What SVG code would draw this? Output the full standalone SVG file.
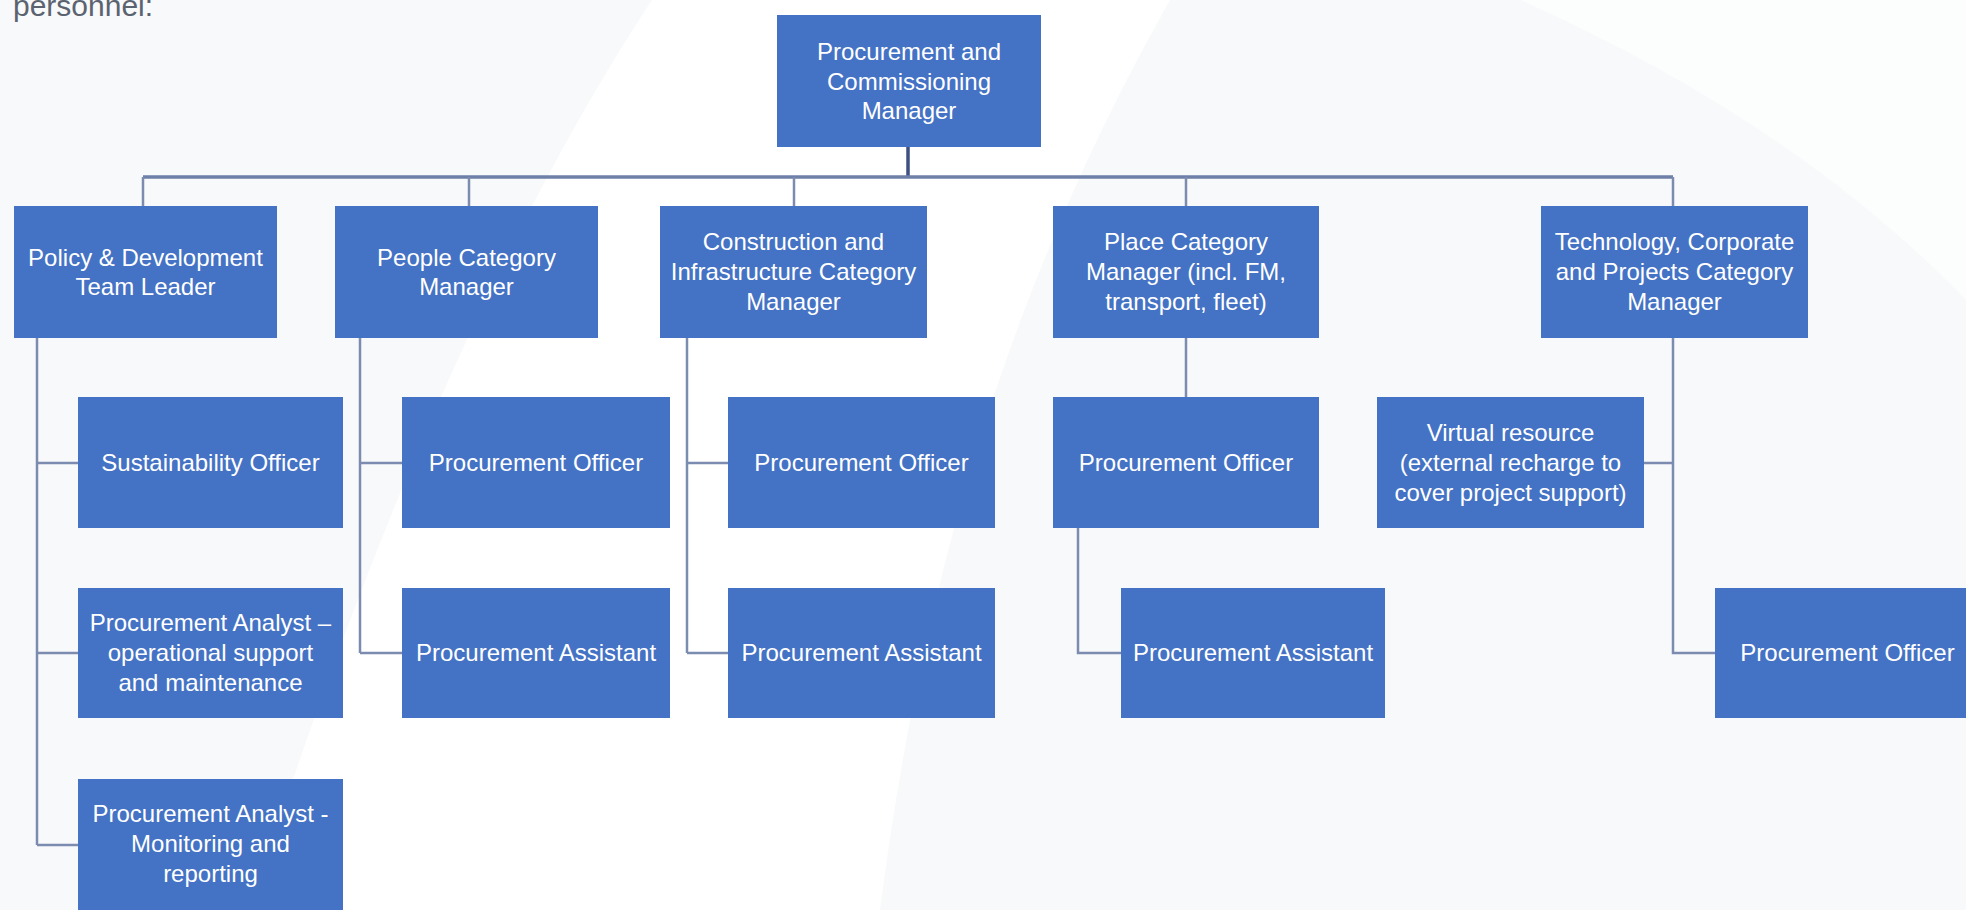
<svg xmlns="http://www.w3.org/2000/svg" width="1966" height="910" viewBox="0 0 1966 910">
<defs>
<style>
.bg{fill:#f8f9fa}
.wm{fill:#ffffff}
.box{fill:#4472c4}
.t{font-family:"Liberation Sans",Arial,sans-serif;font-size:24px;fill:#ffffff;text-anchor:middle}
.ln{fill:none;stroke:#7c8bb0;stroke-width:2.5}
.bus{fill:none;stroke:#6e7fa8;stroke-width:3.5}
.stem{fill:none;stroke:#3e4f82;stroke-width:3.5}
.cap{font-family:"Liberation Sans",Arial,sans-serif;font-size:30px;fill:#5b6370}
</style>
</defs>
<rect class="bg" x="0" y="0" width="1966" height="910"/>
<path class="wm" d="M652,0 C520,200 380,500 250,910 L880,910 C920,600 1000,300 1170,0 Z"/>
<path class="wm" d="M1200,0 L1966,0 L1966,300 C1850,180 1700,80 1520,0 Z" opacity="0.6"/>
<text class="cap" x="13" y="16">personnel:</text>

<g id="connectors">
<path class="stem" d="M908,147 V177"/>
<path class="bus" d="M143,177 H1673"/>
<path class="ln" d="M143,177 V206 M469,177 V206 M794,177 V206 M1186,177 V206 M1673,177 V206"/>
<path class="ln" d="M37,338 V845 M37,463 H78 M37,653 H78 M37,845 H78"/>
<path class="ln" d="M360,338 V653 M360,463 H402 M360,653 H402"/>
<path class="ln" d="M687,338 V653 M687,463 H728 M687,653 H728"/>
<path class="ln" d="M1186,338 V397 M1078,528 V653 H1121"/>
<path class="ln" d="M1673,338 V653 H1715 M1673,463 H1644"/>
</g>

<g id="n-top"><rect class="box" x="777" y="15" width="264" height="132"/>
<text class="t" x="909" y="60">Procurement and</text><text class="t" x="909" y="90">Commissioning</text><text class="t" x="909" y="119">Manager</text></g>

<g id="n-policy"><rect class="box" x="14" y="206" width="263" height="132"/>
<text class="t" x="145.5" y="266">Policy &amp; Development</text><text class="t" x="145.5" y="295">Team Leader</text></g>

<g id="n-people"><rect class="box" x="335" y="206" width="263" height="132"/>
<text class="t" x="466.5" y="266">People Category</text><text class="t" x="466.5" y="295">Manager</text></g>

<g id="n-construction"><rect class="box" x="660" y="206" width="267" height="132"/>
<text class="t" x="793.5" y="250">Construction and</text><text class="t" x="793.5" y="280">Infrastructure Category</text><text class="t" x="793.5" y="310">Manager</text></g>

<g id="n-place"><rect class="box" x="1053" y="206" width="266" height="132"/>
<text class="t" x="1186" y="250">Place Category</text><text class="t" x="1186" y="280">Manager (incl. FM,</text><text class="t" x="1186" y="310">transport, fleet)</text></g>

<g id="n-tech"><rect class="box" x="1541" y="206" width="267" height="132"/>
<text class="t" x="1674.5" y="250">Technology, Corporate</text><text class="t" x="1674.5" y="280">and Projects Category</text><text class="t" x="1674.5" y="310">Manager</text></g>

<g id="n-sustainability"><rect class="box" x="78" y="397" width="265" height="131"/>
<text class="t" x="210.5" y="471">Sustainability Officer</text></g>

<g id="n-analyst-ops"><rect class="box" x="78" y="588" width="265" height="130"/>
<text class="t" x="210.5" y="631">Procurement Analyst –</text><text class="t" x="210.5" y="661">operational support</text><text class="t" x="210.5" y="691">and maintenance</text></g>

<g id="n-analyst-mon"><rect class="box" x="78" y="779" width="265" height="135"/>
<text class="t" x="210.5" y="822">Procurement Analyst -</text><text class="t" x="210.5" y="852">Monitoring and</text><text class="t" x="210.5" y="882">reporting</text></g>

<g id="n-people-po"><rect class="box" x="402" y="397" width="268" height="131"/>
<text class="t" x="536" y="471">Procurement Officer</text></g>

<g id="n-people-pa"><rect class="box" x="402" y="588" width="268" height="130"/>
<text class="t" x="536" y="661">Procurement Assistant</text></g>

<g id="n-constr-po"><rect class="box" x="728" y="397" width="267" height="131"/>
<text class="t" x="861.5" y="471">Procurement Officer</text></g>

<g id="n-constr-pa"><rect class="box" x="728" y="588" width="267" height="130"/>
<text class="t" x="861.5" y="661">Procurement Assistant</text></g>

<g id="n-place-po"><rect class="box" x="1053" y="397" width="266" height="131"/>
<text class="t" x="1186" y="471">Procurement Officer</text></g>

<g id="n-place-pa"><rect class="box" x="1121" y="588" width="264" height="130"/>
<text class="t" x="1253" y="661">Procurement Assistant</text></g>

<g id="n-virtual"><rect class="box" x="1377" y="397" width="267" height="131"/>
<text class="t" x="1510.5" y="441">Virtual resource</text><text class="t" x="1510.5" y="471">(external recharge to</text><text class="t" x="1510.5" y="501">cover project support)</text></g>

<g id="n-tech-po"><rect class="box" x="1715" y="588" width="265" height="130"/>
<text class="t" x="1847.5" y="661">Procurement Officer</text></g>
</svg>
